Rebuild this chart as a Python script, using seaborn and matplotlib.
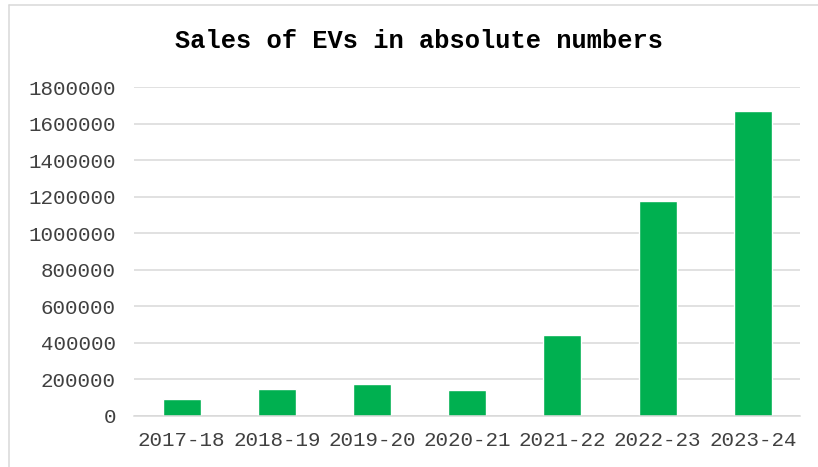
import pandas as pd
import numpy as np
import matplotlib.pyplot as plt
import seaborn as sns
from matplotlib.lines import Line2D

# values
years = ['2017-18', '2018-19', '2019-20', '2020-21', '2021-22', '2022-23', '2023-24']
sales = [93000, 145000, 172000, 141000, 444000, 1177000, 1670000]
y_ticks = [0, 200000, 400000, 600000, 800000, 1000000, 1200000, 1400000, 1600000, 1800000]

df = pd.DataFrame({'year': years, 'sales': sales})

sns.set_style('white')
plt.rcParams['font.family'] = ['Liberation Mono', 'DejaVu Sans Mono']

fig = plt.figure(figsize=(8.18, 4.67), dpi=100)
ax = fig.add_axes([0.1638, 0.1099, 0.8148, 0.7038])

sns.barplot(data=df, x='year', y='sales', color='#00B050', width=0.4,
            saturation=1, ax=ax)

ax.set_ylim(0, 1800000)
ax.set_yticks(y_ticks)
ax.set_yticklabels([str(v) for v in y_ticks])
ax.yaxis.grid(True, color='#d9d9d9', linewidth=1.1)
ax.set_axisbelow(True)
for s in ['top', 'right', 'left']:
    ax.spines[s].set_visible(False)
ax.spines['bottom'].set_color('#d9d9d9')
ax.spines['bottom'].set_linewidth(1.1)
ax.tick_params(axis='both', length=0, labelsize=15, labelcolor='#404040')
ax.tick_params(axis='y', pad=13)
ax.tick_params(axis='x', pad=11)
ax.set_xlabel('')
ax.set_ylabel('')

fig.text(0.512, 0.912, 'Sales of EVs in absolute numbers', ha='center', va='center',
         fontsize=18.3, fontweight='bold', color='black')

# outer chart border (top and left only are in view)
fig.add_artist(Line2D([9 / 818, 1], [1 - 5 / 467, 1 - 5 / 467], color='#d9d9d9', linewidth=1.1))
fig.add_artist(Line2D([9 / 818, 9 / 818], [0, 1 - 5 / 467], color='#d9d9d9', linewidth=1.1))

plt.savefig('out.png', dpi=100)
